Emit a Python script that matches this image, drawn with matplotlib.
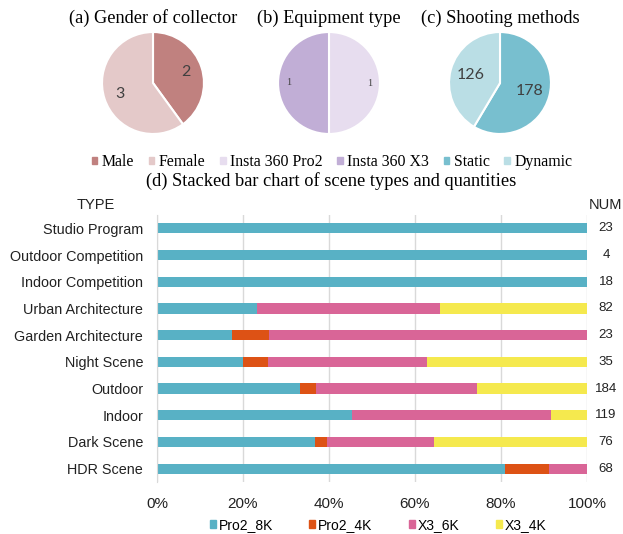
import matplotlib
matplotlib.use("Agg")
import matplotlib.pyplot as plt
from matplotlib.patches import Patch
from matplotlib.transforms import blended_transform_factory

# --- pie data -------------------------------------------------------------
gender_labels = ["Male", "Female"]
gender_counts = [2, 3]
equip_labels = ["Insta 360 Pro2", "Insta 360 X3"]
equip_counts = [1, 1]
shoot_labels = ["Static", "Dynamic"]
shoot_counts = [178, 126]

pie_titles = ["(a) Gender of collector", "(b) Equipment type", "(c) Shooting methods"]

# --- stacked bar data (counts per resolution, top row first) --------------
scene_types = [
    "Studio Program", "Outdoor Competition", "Indoor Competition",
    "Urban Architecture", "Garden Architecture", "Night Scene",
    "Outdoor", "Indoor", "Dark Scene", "HDR Scene",
]
pro2_8k = [23, 4, 18, 19, 4, 7, 61, 54, 28, 55]
pro2_4k = [0, 0, 0, 0, 2, 2, 7, 0, 2, 7]
x3_6k = [0, 0, 0, 35, 17, 13, 69, 55, 19, 6]
x3_4k = [0, 0, 0, 28, 0, 13, 47, 10, 27, 0]
scene_totals = [23, 4, 18, 82, 23, 35, 184, 119, 76, 68]
series_names = ["Pro2_8K", "Pro2_4K", "X3_6K", "X3_4K"]
pct_ticks = [0, 20, 40, 60, 80, 100]

GENDER_COLORS = ["#c0817f", "#e4c9c9"]
EQUIP_COLORS = ["#e7ddef", "#c1aed6"]
SHOOT_COLORS = ["#78bfcf", "#badee5"]
BAR_COLORS = ["#58b1c5", "#dd5215", "#d96597", "#f5e94e"]

SERIF = "Liberation Serif"
SANS = "Liberation Sans"

W, H = 623, 534
fig = plt.figure(figsize=(W / 100, H / 100), dpi=100)


def px_axes(left, top, width, height):
    """Axes placed by pixel box measured from the top-left corner."""
    return fig.add_axes([left / W, 1 - (top + height) / H, width / W, height / H])


def draw_pie(cx, counts, colors, pctdist, fontsize, family, title):
    r = 52
    ax = px_axes(cx - r, 83 - r, 2 * r, 2 * r)
    total = sum(counts)
    ax.pie(
        counts, colors=colors, startangle=90, counterclock=False,
        autopct=lambda p: f"{round(p * total / 100)}", pctdistance=pctdist,
        wedgeprops={"edgecolor": "white", "linewidth": 1.5},
        textprops={"fontsize": fontsize, "family": family, "color": "#404040"},
    )
    ax.set_xlim(-1.02, 1.02)
    ax.set_ylim(-1.02, 1.02)
    fig.text(cx / W, 1 - 18 / H, title, ha="center", va="center",
             fontsize=13.2, family=SERIF)


draw_pie(153, gender_counts, GENDER_COLORS, 0.68, 11.5, "Lato", pie_titles[0])
draw_pie(329, equip_counts, EQUIP_COLORS, 0.8, 7.5, SERIF, pie_titles[1])
draw_pie(500, shoot_counts, SHOOT_COLORS, 0.6, 11.5, "Lato", pie_titles[2])

pie_handles = [
    Patch(color=c, label=l)
    for c, l in zip(GENDER_COLORS + EQUIP_COLORS + SHOOT_COLORS,
                    gender_labels + equip_labels + shoot_labels)
]
fig.legend(
    handles=pie_handles, loc="center", bbox_to_anchor=(332 / W, 1 - 162 / H),
    ncol=6, frameon=False, prop={"family": SERIF, "size": 11.4},
    handlelength=0.35, handleheight=0.35, handletextpad=0.3,
    columnspacing=0.9, borderpad=0,
)

fig.text(331 / W, 1 - 181 / H,
         "(d) Stacked bar chart of scene types and quantities",
         ha="center", va="center", fontsize=13.2, family=SERIF)

# --- stacked bars ---------------------------------------------------------
ax = px_axes(157, 215, 430, 267)
ypos = list(range(len(scene_types)))
left = [0.0] * len(scene_types)
for name, vals, color in zip(series_names, [pro2_8k, pro2_4k, x3_6k, x3_4k], BAR_COLORS):
    pct = [100 * v / t for v, t in zip(vals, scene_totals)]
    ax.barh(ypos, pct, left=left, height=0.38, color=color, label=name, zorder=2)
    left = [a + b for a, b in zip(left, pct)]

ax.set_ylim(len(scene_types) - 0.5, -0.5)
ax.set_xlim(0, 100)
ax.set_yticks(ypos)
ax.set_yticklabels(scene_types, family=SANS, fontsize=10.4, color="#222222")
ax.set_xticks(pct_ticks)
ax.set_xticklabels([f"{t}%" for t in pct_ticks], family=SANS, fontsize=11,
                   color="#222222")
ax.tick_params(axis="y", length=0, pad=10)
ax.tick_params(axis="x", length=0, pad=11)
ax.grid(axis="x", color="#d9d9d9", linewidth=1, zorder=0)
for side in ("top", "right", "bottom"):
    ax.spines[side].set_visible(False)
ax.spines["left"].set_color("#d9d9d9")

num_tr = blended_transform_factory(ax.transAxes, ax.transData)
for y, n in zip(ypos, scene_totals):
    ax.text((606 - 157) / 430, y, str(n), transform=num_tr, ha="center",
            va="center", family=SANS, fontsize=9.5, color="#222222")

fig.text(96 / W, 1 - 205 / H, "TYPE", ha="center", va="center",
         family=SANS, fontsize=10.5, color="#222222")
fig.text(606 / W, 1 - 205 / H, "NUM", ha="center", va="center",
         family=SANS, fontsize=10.5, color="#222222")

fig.legend(
    handles=[Patch(color=c, label=n) for c, n in zip(BAR_COLORS, series_names)],
    loc="center", bbox_to_anchor=(378 / W, 1 - 525 / H), ncol=4,
    frameon=False, prop={"family": SANS, "size": 10},
    handlelength=0.45, handleheight=0.45, handletextpad=0.2,
    columnspacing=2.6, borderpad=0,
)

fig.savefig("out.png", dpi=100)
